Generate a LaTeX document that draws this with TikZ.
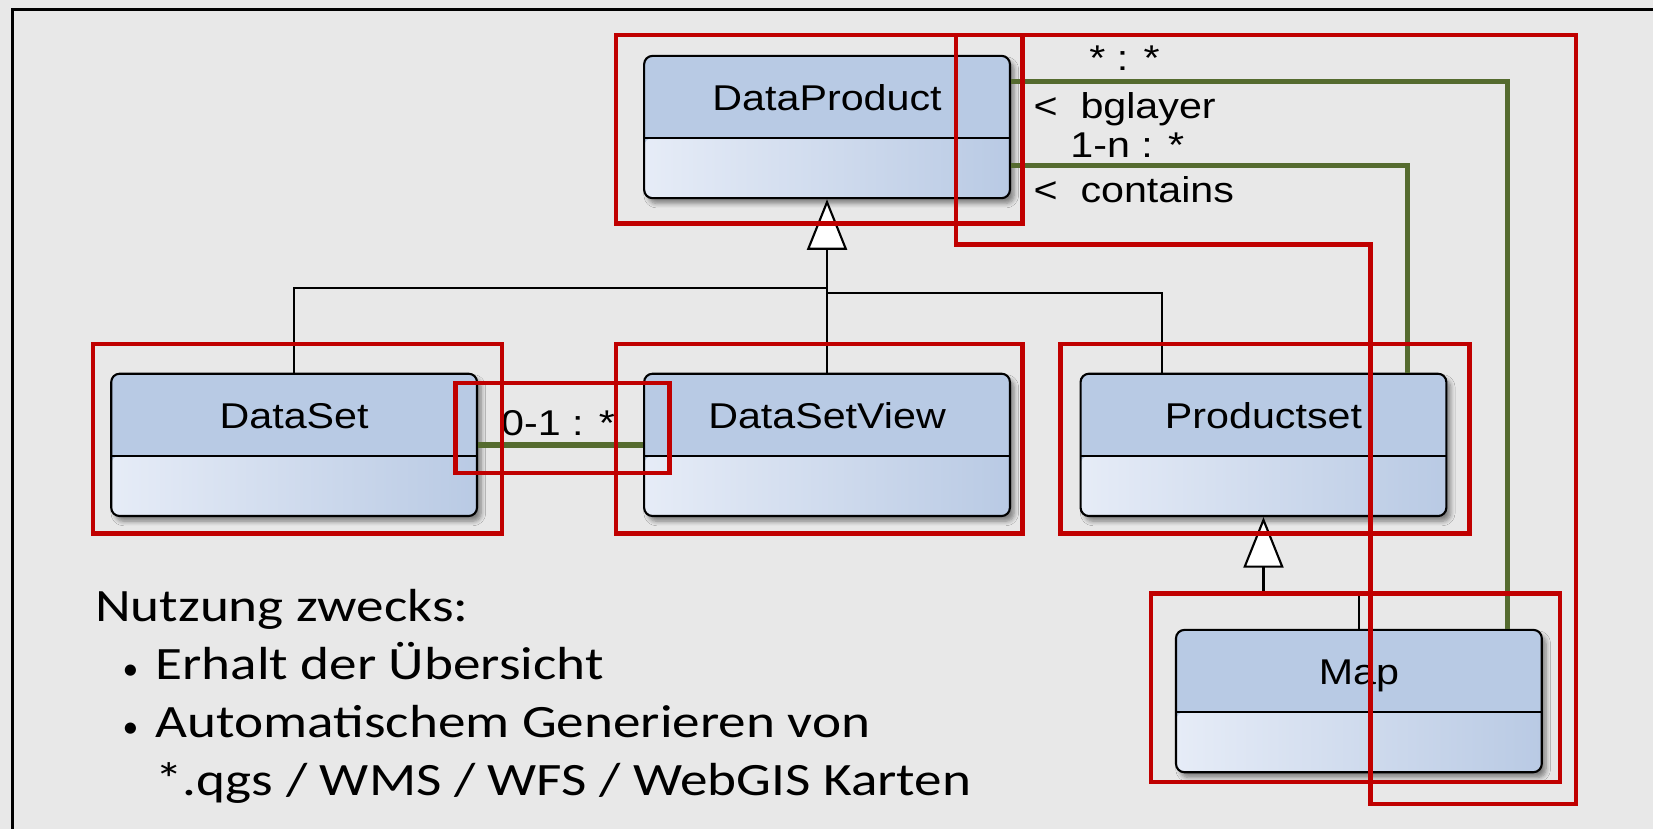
\documentclass[tikz,border=0pt]{standalone}
\usepackage{fontspec}
\setmainfont{Liberation Sans}
\newfontfamily\notefont{Carlito}
\usetikzlibrary{arrows.meta,shadows.blur}
\definecolor{bgc}{HTML}{E8E8E8}
\definecolor{topc}{HTML}{B8CAE4}
\definecolor{lowl}{HTML}{E6ECF7}
\definecolor{lowr}{HTML}{B9CAE4}
\definecolor{assocc}{RGB}{85,107,47}
\definecolor{markc}{HTML}{C00000}
\newcommand\clstext[1]{\scalebox{1.15}[1]{\fontsize{17}{20}\selectfont #1}}
\newcommand\notetext[1]{\scalebox{1.19}[1]{\notefont\fontsize{22}{26}\selectfont #1}}
\newcommand\notebullet{{\notefont\fontsize{15}{18}\selectfont\textbullet}}
\begin{document}
\begin{tikzpicture}[x=0.5pt,y=-0.5pt,
  umlbox/.style={rectangle, rounded corners=4pt, draw=black, line width=1pt, fill=topc,
    minimum width=173.5pt, minimum height=67.5pt, inner sep=0pt,
    blur shadow={shadow xshift=2pt, shadow yshift=-2.5pt, shadow blur steps=6, shadow opacity=45},
    path picture={
      \shade[left color=lowl, right color=lowr] ([yshift=-39pt]path picture bounding box.north west) rectangle (path picture bounding box.south east);
      \draw[line width=1pt] ([yshift=-39pt]path picture bounding box.north west) -- ([yshift=-39pt]path picture bounding box.north east);
    }},
  clsname/.style={anchor=base, inner sep=0pt},
  gen/.style={draw=black, line width=1pt, -{Triangle[open, length=24pt, width=19pt, fill=white]}},
  tree/.style={draw=black, line width=1pt},
  assoc/.style={draw=assocc, line width=2.5pt},
  lbl/.style={anchor=base west, inner sep=0pt},
  notel/.style={anchor=base west, inner sep=0pt},
  markbox/.style={draw=markc, line width=2pt}
]
\useasboundingbox (0,0) rectangle (1568,786);
\fill[bgc] (0,0) rectangle (1568,786);
\draw[black, line width=1.5pt] (12,786) -- (12,9) -- (1568,9);

% coordinates of tree joints
\coordinate (j1) at (784.5,273);
\coordinate (j2) at (784.5,278);
\coordinate (j3) at (1198.5,562);

% class boxes
\node[umlbox] (dp) at (784.5,120.5) {};
\node[umlbox] (ds) at (279,422) {};
\node[umlbox] (dsv) at (784.5,422) {};
\node[umlbox] (ps) at (1198.5,422) {};
\node[umlbox] (map) at (1289,665) {};

% generalization tree
\draw[tree] (ds.north) |- (j1);
\draw[tree] ([xshift=-48.25pt]ps.north) |- (j2);
\draw[gen] (dsv.north) -- (dp.south);
\draw[gen] (map.north) |- (j3) -- (ps.south);

% class names
\node[clsname] (dpT) at ([yshift=-26.25pt]dp.north) {\clstext{DataProduct}};
\node[clsname] (dsT) at ([yshift=-26.25pt]ds.north) {\clstext{DataSet}};
\node[clsname] (dsvT) at ([yshift=-26.25pt]dsv.north) {\clstext{DataSetView}};
\node[clsname] (psT) at ([yshift=-26.25pt]ps.north) {\clstext{Productset}};
\node[clsname] (mapT) at ([yshift=-26.25pt]map.north) {\clstext{Map}};

% associations
\draw[assoc] ([yshift=21.75pt]dp.east) -| ([xshift=70.5pt]map.north);
\draw[assoc] ([yshift=-18.25pt]dp.east) -| ([xshift=68.25pt]ps.north);
\draw[assoc] (ds.east) -- (dsv.west);

% association labels
\node[lbl] (l1) at (1033,67) {\clstext{* : *}};
\node[lbl] (l2) at (980,112) {\clstext{<\ \ bglayer}};
\node[lbl] (l3) at (1015,149) {\clstext{1-n : *}};
\node[lbl] (l4) at (980,192) {\clstext{<\ \ contains}};
\node[lbl] (l5) at (475,413) {\clstext{0-1 : *}};

% note text
\node[notel] (n1) at (90,590) {\notetext{Nutzung zwecks:}};
\node[notel] (b1) at (116,645) {\notebullet};
\node[notel] (n2) at (147,645) {\notetext{Erhalt der Übersicht}};
\node[notel] (b2) at (116,700) {\notebullet};
\node[notel] (n3) at (147,700) {\notetext{Automatischem Generieren von}};
\node[notel] (n4) at (147,755) {\notetext{*.qgs / WMS / WFS / WebGIS Karten}};

% red annotation frames
\draw[markbox] (584,33) rectangle (970,212);
\draw[markbox] (907,33) -- (1495,33) -- (1495,763) -- (1300,763) -- (1300,232) -- (907,232) -- cycle;
\draw[markbox] (88,326) rectangle (476,506);
\draw[markbox] (584,326) rectangle (970,506);
\draw[markbox] (432,363) rectangle (635,449);
\draw[markbox] (1006,326) rectangle (1394,506);
\draw[markbox] (1092,563) rectangle (1480,742);
\end{tikzpicture}
\end{document}
